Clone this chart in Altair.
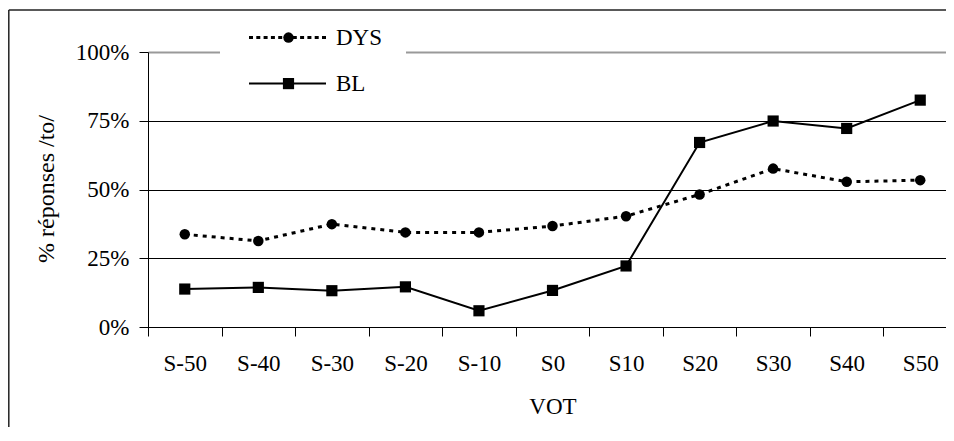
import altair as alt
import pandas as pd

categories = ["S-50", "S-40", "S-30", "S-20", "S-10", "S0", "S10", "S20", "S30", "S40", "S50"]
dys = [0.337, 0.313, 0.374, 0.344, 0.344, 0.367, 0.403, 0.482, 0.576, 0.528, 0.534]
bl = [0.138, 0.144, 0.132, 0.146, 0.059, 0.133, 0.222, 0.671, 0.749, 0.722, 0.825]
series = ["DYS", "BL"]
y_ticks = [0, 0.25, 0.5, 0.75, 1.0]

FONT = "Liberation Serif"
FS = 23

rows = []
for c, a, b in zip(categories, dys, bl):
    rows.append({"vot": c, "serie": "DYS", "value": a})
    rows.append({"vot": c, "serie": "BL", "value": b})
df = pd.DataFrame(rows)

x_enc = alt.X(
    "vot:N",
    sort=categories,
    scale=alt.Scale(type="band", paddingInner=0, paddingOuter=0, range=[0, 809]),
    axis=alt.Axis(
        title="VOT", labelAngle=0, tickBand="extent", tickSize=9, labelPadding=16,
        labelFont=FONT, labelFontSize=FS, labelColor="black",
        titleFont=FONT, titleFontSize=FS, titleFontWeight="normal", titleColor="black",
        titleX=404.5, titleY=68, titleBaseline="top",
        domainColor="black", tickColor="black", grid=False,
    ),
)
y_enc = alt.Y(
    "value:Q",
    scale=alt.Scale(domain=[0, 1], nice=False),
    axis=alt.Axis(
        title="% réponses /to/", values=y_ticks, format=".0%", tickSize=9, labelPadding=10,
        labelFont=FONT, labelFontSize=FS, labelColor="black",
        titleFont=FONT, titleFontSize=24, titleFontWeight="normal", titleColor="black",
        titleAngle=-90, titleX=-102, titleY=136.5, titleAlign="center", titleBaseline="middle",
        domainColor="black", tickColor="black",
        grid=True,
        gridColor=alt.condition("datum.value == 1", alt.value("#999999"), alt.value("black")),
        gridWidth=alt.condition("datum.value == 1", alt.value(2), alt.value(1)),
    ),
)

base = alt.Chart(df)
one = alt.Data(values=[{"k": 1}])

legend_bg = alt.Chart(one).mark_rect(color="white").encode(
    x=alt.value(72), x2=alt.value(258), y=alt.value(-30), y2=alt.value(10)
)
frame_left = alt.Chart(one).mark_rule(color="#222222", strokeWidth=1.5).encode(
    x=alt.value(-139.2), y=alt.value(-42), y2=alt.value(400)
)
frame_top = alt.Chart(one).mark_rule(color="#222222", strokeWidth=1.5).encode(
    x=alt.value(-139.2), x2=alt.value(798), y=alt.value(-42)
)

dys_line = base.transform_filter("datum.serie == 'DYS'").mark_line(
    color="black", strokeWidth=3, strokeDash=[4, 5]
).encode(x=x_enc, y=y_enc)
bl_line = base.transform_filter("datum.serie == 'BL'").mark_line(
    color="black", strokeWidth=2
).encode(x=x_enc, y=y_enc)
dys_pts = base.transform_filter("datum.serie == 'DYS'").mark_point(
    shape="circle", filled=True, size=110, color="black", opacity=1
).encode(x=x_enc, y=y_enc)
bl_pts = base.transform_filter("datum.serie == 'BL'").mark_point(
    shape="square", filled=True, size=125, color="black", opacity=1
).encode(x=x_enc, y=y_enc)

legend_layers = []
row_y = {"DYS": -14.4, "BL": 31.6}
for s in series:
    ld = alt.Data(values=[{"serie": s}])
    yv = row_y[s]
    if s == "DYS":
        lr = alt.Chart(ld).mark_rule(color="black", strokeWidth=3, strokeDash=[4, 3.3])
        lp = alt.Chart(ld).mark_point(shape="circle", filled=True, size=110, color="black", opacity=1)
    else:
        lr = alt.Chart(ld).mark_rule(color="black", strokeWidth=2)
        lp = alt.Chart(ld).mark_point(shape="square", filled=True, size=125, color="black", opacity=1)
    legend_layers.append(lr.encode(x=alt.value(101), x2=alt.value(178), y=alt.value(yv)))
    legend_layers.append(lp.encode(x=alt.value(140.5), y=alt.value(yv)))
    legend_layers.append(
        alt.Chart(ld).mark_text(font=FONT, fontSize=FS, align="left", baseline="middle", color="black")
        .encode(x=alt.value(188), y=alt.value(yv), text="serie:N")
    )

chart = alt.layer(
    legend_bg, frame_left, frame_top, dys_line, bl_line, dys_pts, bl_pts, *legend_layers
).properties(
    width=798,
    height=275,
    padding={"left": 140, "top": 44, "right": 0, "bottom": 100},
    autosize=alt.AutoSizeParams(type="none"),
).configure_view(strokeWidth=0)

chart.save("out.html", embed_options={"renderer": "svg", "actions": False})
